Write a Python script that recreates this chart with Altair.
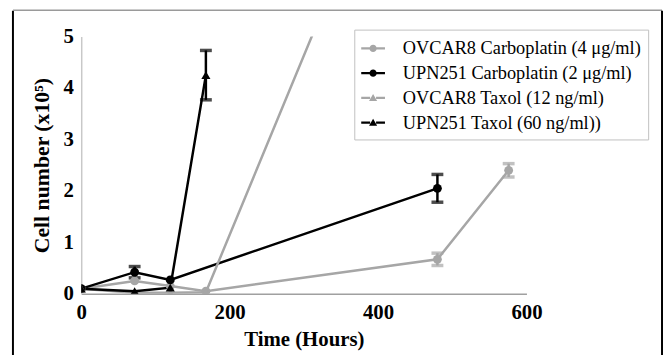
import altair as alt
import pandas as pd

series_names = [
    "OVCAR8 Carboplatin (4 μg/ml)",
    "UPN251 Carboplatin (2 μg/ml)",
    "OVCAR8 Taxol (12 ng/ml)",
    "UPN251 Taxol (60 ng/ml))",
]
series_colors = ["#a6a6a6", "#000000", "#a6a6a6", "#000000"]
series_markers = ["circle", "circle", "triangle", "triangle"]

# OVCAR8 Carboplatin
t_ovcar_carbo = [0, 72, 120, 168, 480, 576]
v_ovcar_carbo = [0.10, 0.25, 0.15, 0.05, 0.67, 2.40]
e_ovcar_carbo = [0.02, 0.05, 0.03, 0.03, 0.12, 0.13]
# UPN251 Carboplatin
t_upn_carbo = [0, 72, 120, 480]
v_upn_carbo = [0.10, 0.42, 0.27, 2.05]
e_upn_carbo = [0.02, 0.11, 0.03, 0.27]
# OVCAR8 Taxol
t_ovcar_taxol = [0, 72, 120, 168, 480]
v_ovcar_taxol = [0.10, 0.02, 0.02, 0.03, 10.9]
e_ovcar_taxol = [0.01, 0.01, 0.01, 0.01, 0.0]
# UPN251 Taxol
t_upn_taxol = [0, 72, 120, 168]
v_upn_taxol = [0.10, 0.05, 0.12, 4.25]
e_upn_taxol = [0.02, 0.02, 0.03, 0.48]

x_ticks = [0, 200, 400, 600]
y_ticks = [0, 1, 2, 3, 4, 5]

rows = []
for name, marker, ts, vs, es in zip(
    series_names, series_markers,
    [t_ovcar_carbo, t_upn_carbo, t_ovcar_taxol, t_upn_taxol],
    [v_ovcar_carbo, v_upn_carbo, v_ovcar_taxol, v_upn_taxol],
    [e_ovcar_carbo, e_upn_carbo, e_ovcar_taxol, e_upn_taxol],
):
    for t, v, e in zip(ts, vs, es):
        rows.append({"series": name, "marker": marker, "time": t, "value": v,
                     "lo": v - e, "hi": v + e, "err": e})
df = pd.DataFrame(rows)

FONT = "Liberation Serif"

color_scale = alt.Scale(domain=series_names, range=series_colors)
x_enc = alt.X("time:Q", scale=alt.Scale(domain=[0, 600], nice=False),
              axis=alt.Axis(values=x_ticks, format="d", title="Time (Hours)", ticks=False,
                            grid=False, domainColor="#a0a0a0", domainWidth=1.5,
                            labelFlush=False,
                            labelFont=FONT, labelFontWeight="bold", labelFontSize=21,
                            labelPadding=8, labelColor="#000",
                            titleFont=FONT, titleFontWeight="bold", titleFontSize=21,
                            titlePadding=6, titleColor="#000"))
y_scale = alt.Scale(domain=[0, 5], nice=False)
y_axis = alt.Axis(values=y_ticks, format="d", title="Cell number (x10⁵)", ticks=False,
                  grid=False, domainColor="#c8c8c8", domainWidth=1.5,
                  labelFlush=False,
                  labelFont=FONT, labelFontWeight="bold", labelFontSize=21,
                  labelPadding=8, labelColor="#000",
                  titleFont=FONT, titleFontWeight="bold", titleFontSize=22,
                  titlePadding=10, titleColor="#000")

base = alt.Chart(df)

lines = base.mark_line(strokeWidth=2.5, clip=True).encode(
    x=x_enc,
    y=alt.Y("value:Q", scale=y_scale, axis=y_axis),
    color=alt.Color("series:N", scale=color_scale, legend=None),
    detail="series:N",
    order="time:Q",
)

err_rules = base.transform_filter("datum.err > 0.05").mark_rule(strokeWidth=2.5).encode(
    x="time:Q",
    y="lo:Q",
    y2="hi:Q",
    color=alt.Color("series:N", scale=color_scale, legend=None),
)

caps = base.transform_filter("datum.err > 0.05").transform_fold(
    ["lo", "hi"], as_=["end", "yv"]
).mark_tick(thickness=3.5, size=12, orient="horizontal").encode(
    x="time:Q",
    y="yv:Q",
    color=alt.Color("series:N", scale=color_scale, legend=None),
)

circles = base.transform_filter("datum.marker == 'circle'").mark_point(
    filled=True, shape="circle", size=80, opacity=1, clip=True
).encode(
    x="time:Q", y="value:Q",
    color=alt.Color("series:N", scale=color_scale, legend=None),
)

triangles = base.transform_filter("datum.marker == 'triangle'").mark_point(
    filled=True, shape="triangle-up", size=85, opacity=1, clip=True
).encode(
    x="time:Q", y="value:Q",
    color=alt.Color("series:N", scale=color_scale, legend=None),
)

circ_path = ("M-1,-0.1H-0.28V0.1H-1Z M0.28,-0.1H1V0.1H0.28Z "
             "M0.3,0A0.3,0.3 0 1,1 -0.3,0A0.3,0.3 0 1,1 0.3,0Z")
tri_path = ("M-1,-0.1H-0.25V0.1H-1Z M0.25,-0.1H1V0.1H0.25Z "
            "M0,-0.32L0.34,0.27L-0.34,0.27Z")
shape_range = [circ_path, circ_path, tri_path, tri_path]

legend = alt.Legend(
    title=None, orient="none", legendX=276, legendY=-7,
    strokeColor="#c0c0c0", padding=7, labelFont=FONT, labelFontSize=18.5,
    labelColor="#000", symbolSize=576, labelOffset=18, rowPadding=3,
    symbolStrokeWidth=0, symbolOpacity=1, labelLimit=400,
)

legend_layer = base.transform_calculate(off="datum.value + 100").mark_point(
    filled=True, opacity=1, clip=True
).encode(
    x="time:Q",
    y="off:Q",
    color=alt.Color("series:N", scale=color_scale, legend=legend),
    shape=alt.Shape("series:N", scale=alt.Scale(domain=series_names, range=shape_range),
                    legend=legend),
)

frame_data = alt.Data(values=[{"k": 1}])
frame_left = alt.Chart(frame_data).mark_rule(color="#000", strokeWidth=2).encode(
    x=alt.value(-69), y=alt.value(-26), y2=alt.value(330))
frame_top = alt.Chart(frame_data).mark_rule(color="#9a9a9a", strokeWidth=1.5).encode(
    x=alt.value(-69), x2=alt.value(587), y=alt.value(-26.5))
frame_right = alt.Chart(frame_data).mark_rule(color="#000", strokeWidth=2).encode(
    x=alt.value(587), y=alt.value(-26), y2=alt.value(330))

chart = alt.layer(
    lines, err_rules, caps, circles, triangles, legend_layer,
    frame_left, frame_top, frame_right,
).resolve_legend(
    color="independent", shape="independent"
).properties(
    width=450, height=260,
    autosize=alt.AutoSizeParams(type="none"),
    padding={"left": 74, "top": 27, "right": 138, "bottom": 60},
    background="white",
).configure(
    font=FONT
).configure_view(
    stroke=None
).configure_legend(
    labelFont=FONT, labelFontSize=18.5, labelLimit=400, labelColor="#000",
    rowPadding=3, symbolSize=576, labelOffset=18, padding=7, strokeColor="#c0c0c0",
)

chart.save("out.html", embed_options={"renderer": "svg", "actions": False})
